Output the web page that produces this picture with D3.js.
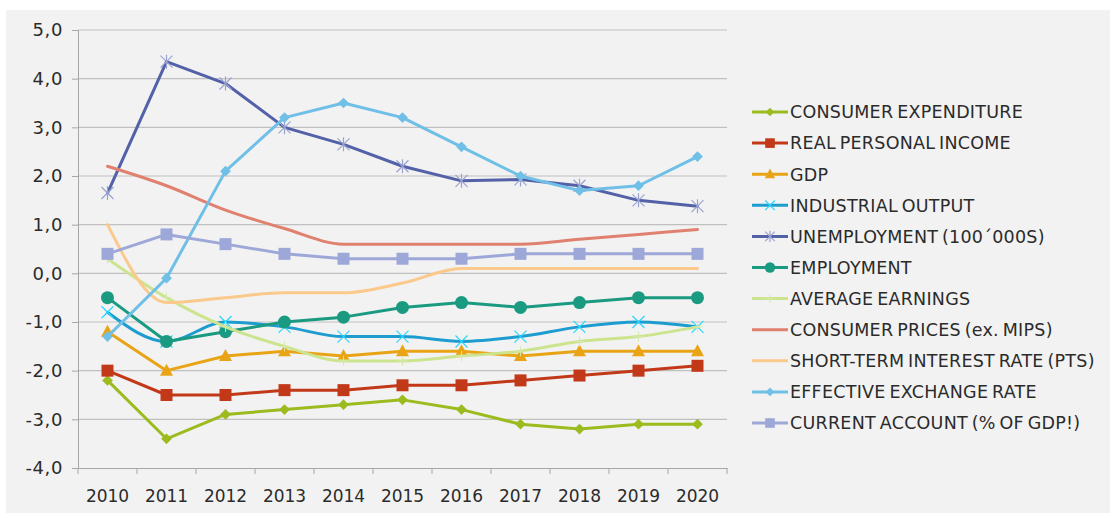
<!DOCTYPE html>
<html>
<head>
<meta charset="utf-8">
<script src="https://cdn.jsdelivr.net/npm/d3@7"></script>
<style>
  body { margin: 0; background: #ffffff; }
  text { font-family: "DejaVu Sans", Verdana, sans-serif; fill: #2b2b2b; }
</style>
</head>
<body>
<svg id="chart" width="1114" height="518"></svg>
<script>
// Forecast years and value ticks
const years = ["2010","2011","2012","2013","2014","2015","2016","2017","2018","2019","2020"];
const yTicks = [5, 4, 3, 2, 1, 0, -1, -2, -3, -4];

// Series values (annual % change unless stated)
const consumerExpenditure = [-2.2, -3.4, -2.9, -2.8, -2.7, -2.6, -2.8, -3.1, -3.2, -3.1, -3.1];
const realPersonalIncome  = [-2.0, -2.5, -2.5, -2.4, -2.4, -2.3, -2.3, -2.2, -2.1, -2.0, -1.9];
const gdp                 = [-1.2, -2.0, -1.7, -1.6, -1.7, -1.6, -1.6, -1.7, -1.6, -1.6, -1.6];
const industrialOutput    = [-0.8, -1.4, -1.0, -1.1, -1.3, -1.3, -1.4, -1.3, -1.1, -1.0, -1.1];
const unemployment        = [1.65, 4.35, 3.9, 3.0, 2.65, 2.2, 1.9, 1.93, 1.8, 1.5, 1.38];
const employment          = [-0.5, -1.4, -1.2, -1.0, -0.9, -0.7, -0.6, -0.7, -0.6, -0.5, -0.5];
const averageEarnings     = [0.3, -0.5, -1.1, -1.5, -1.8, -1.8, -1.7, -1.6, -1.4, -1.3, -1.1];
const consumerPrices      = [2.2, 1.8, 1.3, 0.92, 0.6, 0.6, 0.6, 0.6, 0.7, 0.8, 0.9];
const shortTermRate       = [1.0, -0.6, -0.5, -0.4, -0.4, -0.2, 0.1, 0.1, 0.1, 0.1, 0.1];
const exchangeRate        = [-1.3, -0.1, 2.1, 3.2, 3.5, 3.2, 2.6, 2.0, 1.7, 1.8, 2.4];
const currentAccount      = [0.4, 0.8, 0.6, 0.4, 0.3, 0.3, 0.3, 0.4, 0.4, 0.4, 0.4];

const series = [
  { name: "CONSUMER EXPENDITURE",              values: consumerExpenditure, color: "#9cbb1f", marker: "diamond",  smooth: false },
  { name: "REAL PERSONAL INCOME",              values: realPersonalIncome,  color: "#c2391a", marker: "square",   smooth: false },
  { name: "GDP",                               values: gdp,                 color: "#e9a416", marker: "triangle", smooth: false },
  { name: "INDUSTRIAL OUTPUT",                 values: industrialOutput,    color: "#1d9ccf", marker: "x",        smooth: true  },
  { name: "UNEMPLOYMENT (100\u00b4000S)",      values: unemployment,        color: "#5261a8", marker: "star",     smooth: false },
  { name: "EMPLOYMENT",                        values: employment,          color: "#1a9a80", marker: "circle",   smooth: false },
  { name: "AVERAGE EARNINGS",                  values: averageEarnings,     color: "#cde48f", marker: "plus",     smooth: true  },
  { name: "CONSUMER PRICES (ex. MIPS)",        values: consumerPrices,      color: "#e0806f", marker: "none",     smooth: true  },
  { name: "SHORT-TERM INTEREST RATE (PTS)",    values: shortTermRate,       color: "#fbc98c", marker: "none",     smooth: true  },
  { name: "EFFECTIVE EXCHANGE RATE",           values: exchangeRate,        color: "#6fbfe7", marker: "diamond",  smooth: false },
  { name: "CURRENT ACCOUNT (% OF GDP!)",       values: currentAccount,      color: "#9da8d8", marker: "square",   smooth: false }
];

const svg = d3.select("#chart");

// Chart panel
svg.append("rect").attr("x", 6).attr("y", 10).attr("width", 1104).attr("height", 503).attr("fill", "#f2f2f2");

const plot = { left: 78, right: 727, top: 30, bottom: 468 };

const x = d3.scaleBand().domain(years).range([plot.left, plot.right]).padding(0);
const y = d3.scaleLinear().domain([-4, 5]).range([plot.bottom, plot.top]);
const cx = yr => x(yr) + x.bandwidth() / 2;

const fmt = v => d3.format(".1f")(v).replace(".", ",").replace("\u2212", "-");

// Horizontal gridlines
svg.append("g").selectAll("line").data(yTicks.filter(t => t !== -4)).join("line")
  .attr("x1", plot.left).attr("x2", plot.right)
  .attr("y1", d => y(d)).attr("y2", d => y(d))
  .attr("stroke", "#c0c0c0").attr("stroke-width", 1.2);

// Y axis
const yAxis = svg.append("g").attr("transform", `translate(${plot.left},0)`)
  .call(d3.axisLeft(y).tickValues(yTicks).tickFormat(fmt).tickSize(6).tickPadding(9));
yAxis.select(".domain").attr("stroke", "#a6a6a6");
yAxis.selectAll(".tick line").attr("stroke", "#a6a6a6");
yAxis.selectAll("text").style("font-size", "18px").style("letter-spacing", "0.6px").attr("fill", "#2b2b2b");

// X axis: labels centred in bands, tick marks on band edges
const xAxis = svg.append("g").attr("transform", `translate(0,${plot.bottom})`)
  .call(d3.axisBottom(x).tickSize(0).tickPadding(22));
xAxis.select(".domain").attr("stroke", "#a6a6a6");
xAxis.selectAll("text").style("font-size", "17px").attr("fill", "#2b2b2b");
const edges = years.map(yr => x(yr)).concat([plot.right]);
svg.append("g").selectAll("line").data(edges).join("line")
  .attr("x1", d => d).attr("x2", d => d)
  .attr("y1", plot.bottom).attr("y2", plot.bottom + 6)
  .attr("stroke", "#a6a6a6");

// Marker drawing
function drawMarker(g, type, color, s) {
  switch (type) {
    case "diamond":
      g.append("rect").attr("x", -3.8 * s).attr("y", -3.8 * s).attr("width", 7.6 * s).attr("height", 7.6 * s)
        .attr("transform", "rotate(45)").attr("fill", color);
      break;
    case "square":
      g.append("rect").attr("x", -6 * s).attr("y", -6 * s).attr("width", 12 * s).attr("height", 12 * s).attr("fill", color);
      break;
    case "circle":
      g.append("circle").attr("r", 6.5 * s).attr("fill", color);
      break;
    case "triangle":
      g.append("path").attr("d", `M0,${-7 * s}L${6.5 * s},${5 * s}L${-6.5 * s},${5 * s}Z`).attr("fill", color);
      break;
    case "x":
      g.append("path").attr("d", `M${-6 * s},${-6 * s}L${6 * s},${6 * s}M${-6 * s},${6 * s}L${6 * s},${-6 * s}`)
        .attr("stroke", d3.color(color).brighter(0.9)).attr("stroke-width", 1.2);
      break;
    case "star":
      g.append("path").attr("d", `M${-6 * s},${-6 * s}L${6 * s},${6 * s}M${-6 * s},${6 * s}L${6 * s},${-6 * s}M0,${-7 * s}L0,${7 * s}`)
        .attr("stroke", "#9aa2cf").attr("stroke-width", 1.2);
      break;
    case "plus":
      g.append("path").attr("d", `M${-5 * s},0L${5 * s},0M0,${-5 * s}L0,${5 * s}`)
        .attr("stroke", "#d6e8ad").attr("stroke-width", 1);
      break;
  }
}

// Series lines and markers
const straight = d3.line().x(d => cx(d.year)).y(d => y(d.value));
const smooth = d3.line().x(d => cx(d.year)).y(d => y(d.value)).curve(d3.curveMonotoneX);

series.forEach(s => {
  const pts = years.map((yr, i) => ({ year: yr, value: s.values[i] }));
  const g = svg.append("g");
  g.append("path").datum(pts)
    .attr("d", s.smooth ? smooth : straight)
    .attr("fill", "none").attr("stroke", s.color)
    .attr("stroke-width", 3).attr("stroke-linejoin", "round").attr("stroke-linecap", "round");
  if (s.marker !== "none") {
    pts.forEach(p => {
      const m = g.append("g").attr("transform", `translate(${cx(p.year)},${y(p.value)})`);
      drawMarker(m, s.marker, s.color, 1);
    });
  }
});

// Legend
const legend = svg.append("g");
series.forEach((s, i) => {
  const ly = 112 + i * 31.1;
  const row = legend.append("g").attr("transform", `translate(0,${ly})`);
  row.append("line").attr("x1", 752).attr("x2", 788).attr("y1", 0).attr("y2", 0)
    .attr("stroke", s.color).attr("stroke-width", 3);
  const m = row.append("g").attr("transform", "translate(770,0)");
  drawMarker(m, s.marker, s.color, 0.8);
  row.append("text").attr("x", 790).attr("y", 0).attr("dy", "0.36em")
    .style("font-size", "17.5px").style("word-spacing", "-2px").style("letter-spacing", "0.25px").text(s.name);
});
</script>
</body>
</html>
